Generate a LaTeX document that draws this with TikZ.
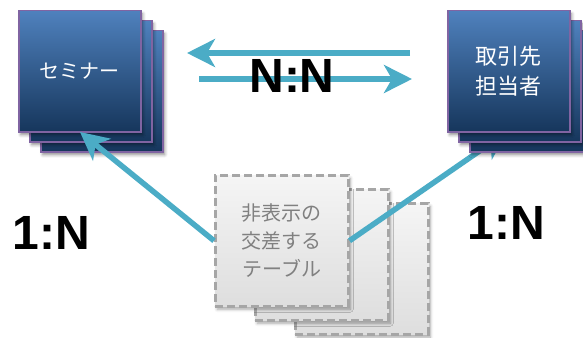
\documentclass[tikz,border=0pt]{standalone}
\usepackage{fontspec}
\setmainfont{Liberation Sans}
\newfontfamily\jp{Noto Sans CJK JP}
\usetikzlibrary{arrows.meta,shadows.blur}
\definecolor{arrowc}{HTML}{4BACC6}
\definecolor{boxline}{HTML}{8064A2}
\definecolor{boxtop}{RGB}{79,129,189}
\definecolor{boxbot}{RGB}{22,54,92}
\definecolor{grayline}{HTML}{A6A6A6}
\definecolor{graytop}{RGB}{245,245,245}
\definecolor{graybot}{RGB}{222,222,222}
\definecolor{graytext}{RGB}{128,128,128}
\begin{document}
\begin{tikzpicture}[x=1pt,y=-1pt,
  bluebox/.style={draw=boxline, line width=1.5pt, top color=boxtop, bottom color=boxbot,
    minimum width=122pt, minimum height=121pt, inner sep=0pt, anchor=north west,
    text=white, align=center, font=\jp\fontsize{20}{29}\selectfont,
    blur shadow={shadow xshift=2pt, shadow yshift=-3pt, shadow blur radius=3pt, shadow opacity=45}},
  graybox/.style={draw=grayline, line width=2.5pt, dash pattern=on 8pt off 4pt,
    top color=graytop, bottom color=graybot,
    minimum width=133pt, minimum height=131pt, inner sep=0pt, anchor=north west,
    text=graytext, align=center, font=\jp\fontsize{20}{28}\selectfont,
    blur shadow={shadow xshift=2pt, shadow yshift=-3pt, shadow blur radius=3pt, shadow opacity=35}},
  conn/.style={draw=arrowc, line width=5.5pt,
    -{Stealth[length=28pt, width=28pt, inset=8pt]}},
  ratio/.style={font=\bfseries\fontsize{48}{50}\selectfont, text=black, inner sep=0pt}
]
\useasboundingbox (0,0) rectangle (583,337);
% left stack
\node[bluebox] (sem3) at (40,30) {};
\node[bluebox] (sem2) at (29,20) {};
\node[bluebox] (sem1) at (18,10) {セミナー};
% middle stack
\node[graybox] (tbl3) at (294,202) {};
\node[graybox] (tbl2) at (254,188) {};
\node[graybox] (tbl1) at (214,174) {非表示の\\交差する\\テーブル};
% right arrow (behind right stack)
\coordinate (repTip) at (507,132);
\draw[conn] (tbl1.east) -- (repTip);
% right stack
\node[bluebox] (rep3) at (469,30) {};
\node[bluebox] (rep2) at (458,20) {};
\node[bluebox, font=\jp\fontsize{22}{30}\selectfont] (rep1) at (447,10) {取引先\\担当者};
% left arrow
\coordinate (semTip) at (80,132);
\draw[conn] (tbl1.west) -- (semTip);
% top arrows
\coordinate (nnA) at (410,53);
\coordinate (nnB) at (187,53);
\coordinate (nnC) at (199,79);
\coordinate (nnD) at (412,79);
\draw[conn] (nnA) -- (nnB);
\draw[conn] (nnC) -- (nnD);
% labels
\node[ratio] (nn) at (292,75.5) {N:N};
\node[ratio] (oneL) at (51,232.5) {1:N};
\node[ratio] (oneR) at (506.5,222.5) {1:N};
\end{tikzpicture}
\end{document}
